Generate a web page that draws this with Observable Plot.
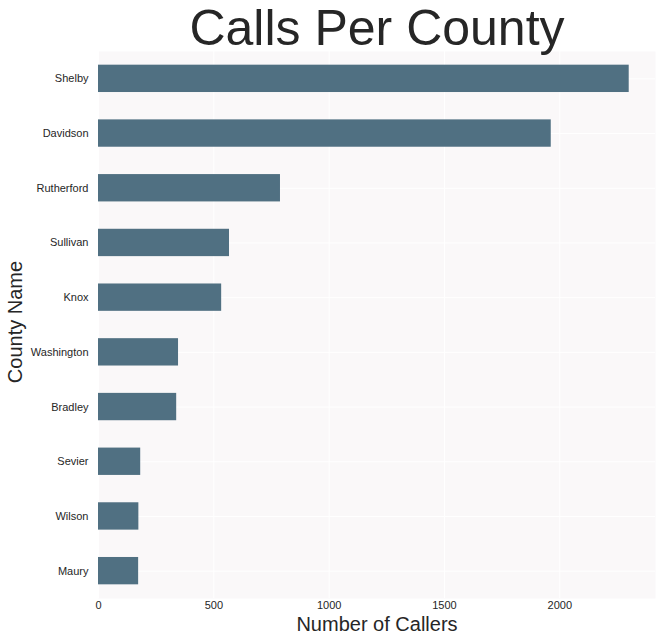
<!DOCTYPE html>
<html>
<head>
<meta charset="utf-8">
<script src="https://cdn.jsdelivr.net/npm/d3@7"></script>
<script src="https://cdn.jsdelivr.net/npm/@observablehq/plot@0.6"></script>
<style>
  html, body { margin: 0; padding: 0; background: #ffffff; }
  #chart svg { display: block; }
</style>
</head>
<body>
<div id="chart"></div>
<script>
const counties = ["Shelby", "Davidson", "Rutherford", "Sullivan", "Knox", "Washington", "Bradley", "Sevier", "Wilson", "Maury"];
const callers = [2301, 1963, 789, 568, 534, 347, 339, 183, 175, 174];
const xTicks = [0, 500, 1000, 1500, 2000];
const titleText = "Calls Per County";
const xLabel = "Number of Callers";
const yLabel = "County Name";

const data = counties.map((c, i) => ({county: c, value: callers[i]}));
const textColor = "#262626";
const font = "'Liberation Sans', Arial, Helvetica, sans-serif";

const chart = Plot.plot({
  width: 662,
  height: 643,
  marginTop: 51,
  marginBottom: 45,
  marginLeft: 98,
  marginRight: 7,
  style: {fontFamily: font, color: textColor, background: "#ffffff"},
  x: {domain: [0, 2415], ticks: xTicks, tickFormat: d3.format("d")},
  y: {domain: counties, paddingInner: 0.5, paddingOuter: 0.25, round: false},
  marks: [
    Plot.frame({fill: "#faf8f9", stroke: null}),
    Plot.gridX(xTicks, {stroke: "#ffffff", strokeOpacity: 1, strokeWidth: 1}),
    Plot.gridY({stroke: "#ffffff", strokeOpacity: 1, strokeWidth: 1}),
    Plot.barX(data, {x: "value", y: "county", fill: "#507082"}),
    Plot.axisX(xTicks, {tickSize: 0, tickPadding: 3, fontSize: 11, label: null, fill: textColor, tickFormat: d3.format("d")}),
    Plot.axisY({tickSize: 0, tickPadding: 10, fontSize: 11, label: null, fill: textColor}),
    Plot.text([titleText], {frameAnchor: "top", lineAnchor: "bottom", dy: -7, fontSize: 50, fill: textColor}),
    Plot.text([xLabel], {frameAnchor: "bottom", lineAnchor: "bottom", dy: 32, fontSize: 20, fill: textColor}),
    Plot.text([yLabel], {frameAnchor: "left", textAnchor: "middle", lineAnchor: "bottom", rotate: -90, dx: -77, dy: -3, fontSize: 20, fill: textColor})
  ]
});
document.getElementById("chart").appendChild(chart);
</script>
</body>
</html>
